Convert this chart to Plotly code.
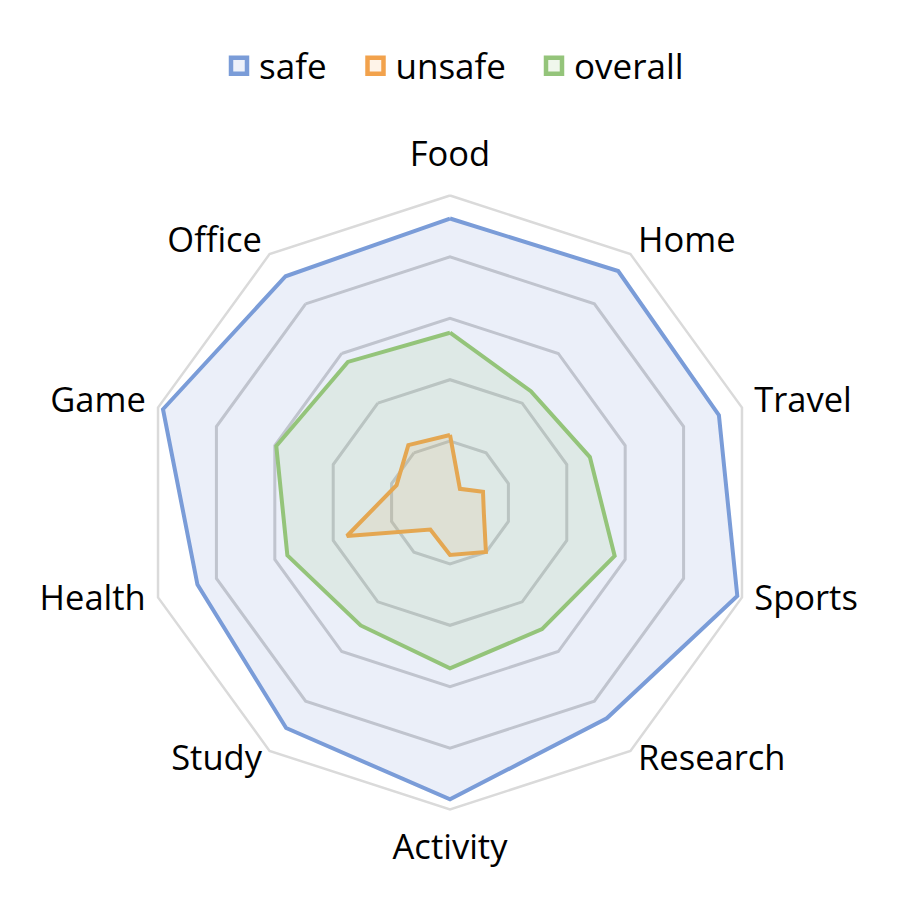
import plotly.graph_objects as go

categories = ["Food", "Home", "Travel", "Sports", "Research",
              "Activity", "Study", "Health", "Game", "Office"]
safe = [92.5, 93.2, 92.1, 98.4, 86.9, 96.7, 90.8, 86.5, 98.3, 91.1]
unsafe = [22.0, 5.5, 11.3, 11.6, 19.9, 17.1, 10.9, 35.3, 18.3, 23.1]
overall = [55.3, 44.8, 47.9, 56.4, 51.0, 54.0, 49.5, 55.7, 59.5, 56.6]

R_MAX = 100          # outer ring value
R_AXIS = 116         # radial axis extent (room for the labels)
LABEL_R_SIDE = 104.2
LABEL_R_TOP = 112.5
LABEL_R_BOTTOM = 113.3
label_r = [LABEL_R_TOP, LABEL_R_SIDE, LABEL_R_SIDE, LABEL_R_SIDE, LABEL_R_SIDE,
           LABEL_R_BOTTOM, LABEL_R_SIDE, LABEL_R_SIDE, LABEL_R_SIDE, LABEL_R_SIDE]
label_pos = ["middle center", "middle right", "middle right", "middle right", "middle right",
             "middle center", "middle left", "middle left", "middle left", "middle left"]

series = [
    ("safe", safe, "#7a9cd8", "rgba(120,150,215,0.15)", "#edf1fa", "legend", 239),
    ("unsafe", unsafe, "#f2a24c", "rgba(240,160,75,0.12)", "#fef3e8", "legend2", 375.5),
    ("overall", overall, "#94c47a", "rgba(148,196,122,0.14)", "#f0f7ec", "legend3", 554),
]

# page has an 8px body margin; compensate
OFF = 8
CX, CY, RPX = 450, 502.5, 307 * R_AXIS / R_MAX
LEG_SHIFT = 20  # legend origin -> symbol centre

fig = go.Figure()
# outer ring
fig.add_trace(go.Scatterpolar(
    r=[R_MAX] * (len(categories) + 1), theta=categories + categories[:1],
    mode="lines", line=dict(color="#dadada", width=2.5),
    hoverinfo="skip", showlegend=False,
))
for name, vals, line_col, fill_col, leg_fill, leg, sx in series:
    fig.add_trace(go.Scatterpolar(
        r=vals + vals[:1],
        theta=categories + categories[:1],
        name=name,
        mode="lines",
        fill="toself",
        fillcolor=fill_col,
        line=dict(color=line_col, width=4),
        hoverinfo="skip",
        showlegend=False,
    ))
legends = {}
for name, vals, line_col, fill_col, leg_fill, leg, sx in series:
    fig.add_trace(go.Scatterpolar(
        r=[None], theta=[None], name=name, mode="markers",
        marker=dict(symbol="square", size=16, color=leg_fill,
                    line=dict(color=line_col, width=4.5)),
        hoverinfo="skip", showlegend=True, legend=leg,
    ))
    legends[leg] = dict(
        orientation="h", x=(sx - LEG_SHIFT - OFF) / 900, xanchor="left",
        y=1 - (66 - OFF) / 900, yanchor="middle",
        font=dict(size=35), itemwidth=30, bgcolor="rgba(0,0,0,0)",
    )
# category labels
fig.add_trace(go.Scatterpolar(
    r=label_r, theta=categories, mode="text",
    text=categories, textposition=label_pos,
    textfont=dict(family="Open Sans", size=34.5, color="black"),
    hoverinfo="skip", showlegend=False, cliponaxis=False,
))

fig.update_layout(
    width=900, height=900,
    margin=dict(l=0, r=0, t=0, b=0),
    paper_bgcolor="white",
    font=dict(family="Open Sans", size=35, color="black"),
    polar=dict(
        domain=dict(x=[(CX - RPX - OFF) / 900, (CX + RPX - OFF) / 900],
                    y=[1 - (CY + RPX - OFF) / 900, 1 - (CY - RPX - OFF) / 900]),
        bgcolor="white",
        gridshape="linear",
        radialaxis=dict(
            range=[0, R_AXIS], tickvals=[20, 40, 60, 80],
            showticklabels=False, ticks="", showline=False,
            gridcolor="#cdcdcd", gridwidth=2.5,
        ),
        angularaxis=dict(
            direction="clockwise", rotation=90,
            categoryorder="array", categoryarray=categories,
            showgrid=False, ticks="", showticklabels=False,
            showline=False,
        ),
    ),
    showlegend=True,
    **legends,
)

fig.write_html("out.html")
